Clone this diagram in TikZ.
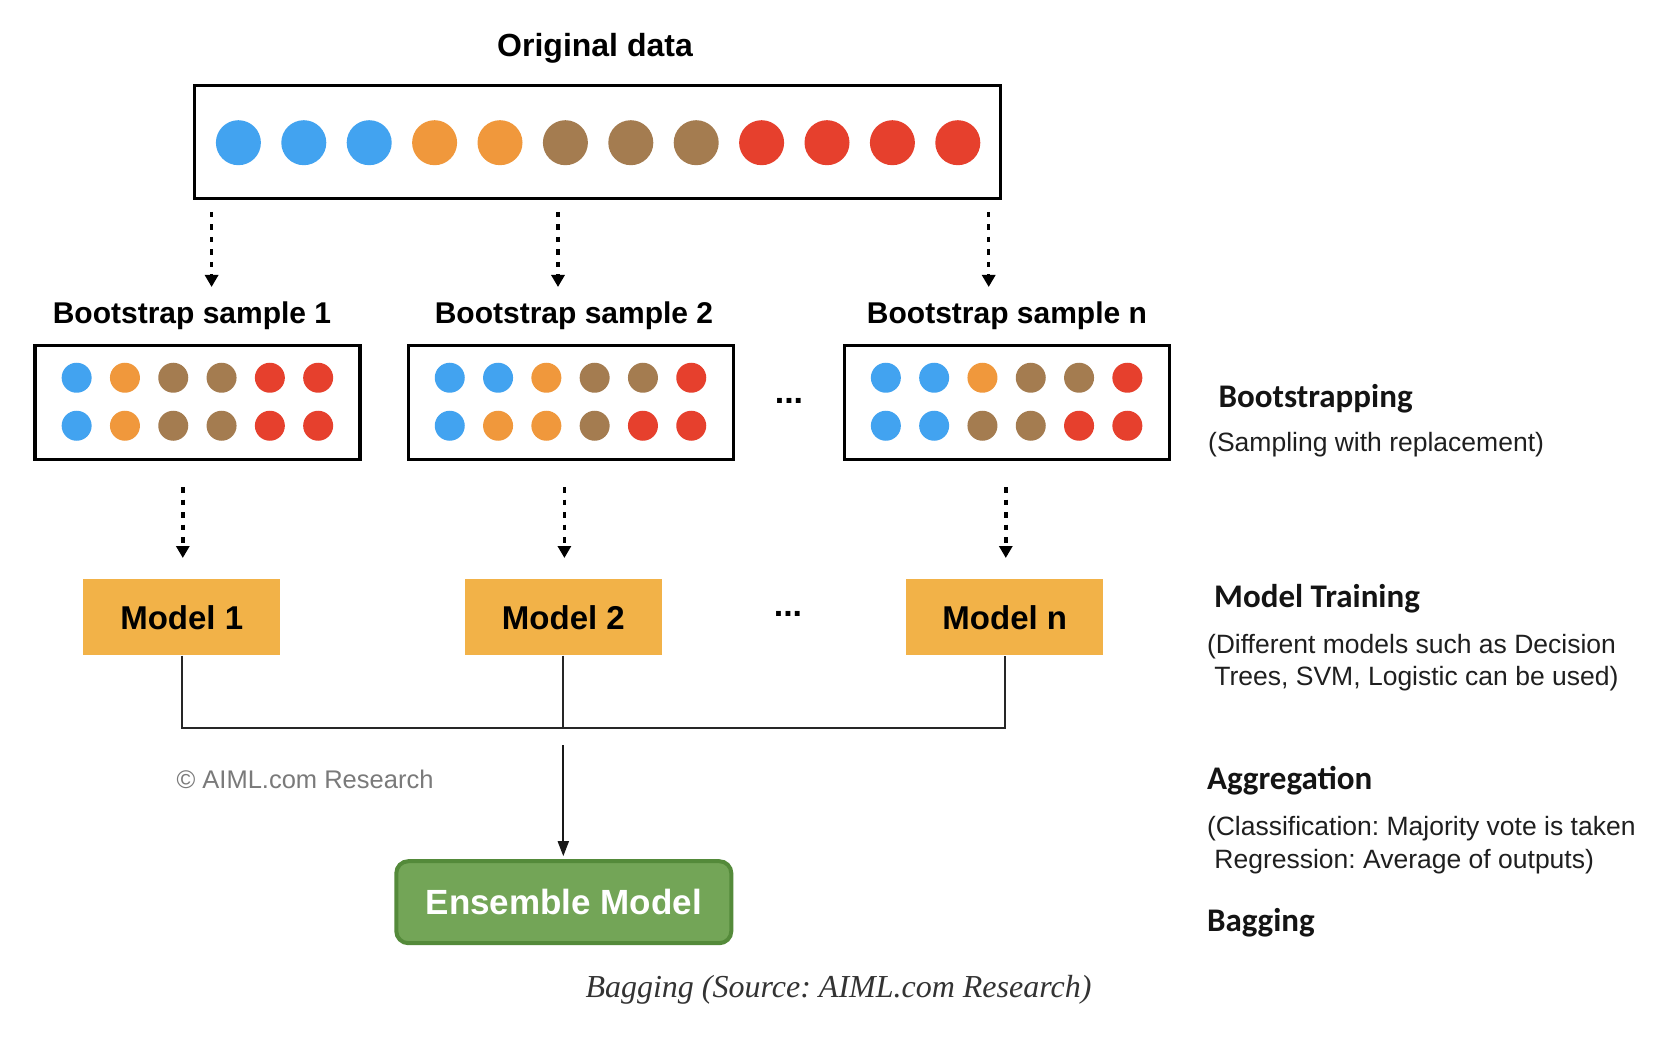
\documentclass[tikz,border=0pt]{standalone}
\usepackage{fontspec}
\setmainfont{Liberation Sans}
\newfontfamily\calib{Carlito}
\newfontfamily\capserif{Liberation Serif}
\usetikzlibrary{arrows.meta}
\definecolor{dblue}{HTML}{42A3F0}
\definecolor{dor}{HTML}{F0983C}
\definecolor{dbr}{HTML}{A47C50}
\definecolor{dred}{HTML}{E6402D}
\definecolor{mfill}{HTML}{F2B248}
\definecolor{egreen}{HTML}{73A557}
\definecolor{eborder}{HTML}{548A3A}
\definecolor{cgray}{HTML}{7A7A7A}
\definecolor{capc}{HTML}{333333}
\newcommand{\fs}[1]{\fontsize{#1}{#1}\selectfont}
\newcommand{\sampledots}[3]{%
  \begin{scope}[shift={(#1.north west)}]
    \foreach \c [count=\i from 0] in {#2} \fill[\c] (43.2+\i*48.3,34) circle (15);
    \foreach \c [count=\i from 0] in {#3} \fill[\c] (43.2+\i*48.3,82) circle (15);
  \end{scope}}
\frenchspacing
\begin{document}
\begin{tikzpicture}[x=1pt,y=-1pt,
  bigbox/.style={draw, line width=3.5pt, minimum width=806pt, minimum height=113pt, inner sep=0pt},
  sbox/.style={draw, line width=3.5pt, minimum width=325pt, minimum height=114pt, inner sep=0pt},
  title/.style={anchor=base, inner sep=0pt, font=\fs{31}\bfseries},
  mbox/.style={fill=mfill, minimum width=197pt, minimum height=76pt, inner sep=0pt, font=\fs{33}\bfseries},
  ens/.style={fill=egreen, draw=eborder, line width=4pt, rounded corners=12pt, minimum width=335pt, minimum height=82pt, text=white, font=\fs{35}\bfseries},
  darr/.style={line width=3.5pt, dash pattern=on 5.5pt off 7pt, -{Triangle[length=12pt,width=13pt]}},
  conn/.style={line width=1.6pt, draw=black!85},
  sarr/.style={line width=1.8pt, draw=black!90, -{Triangle[length=15pt,width=11pt]}},
  dots/.style={anchor=base, inner sep=0pt, font=\fs{34}\bfseries},
  rhead/.style={anchor=base west, inner sep=0pt, font=\fs{33}\calib\bfseries, text=black!92},
  rtext/.style={anchor=base west, inner sep=0pt, font=\fs{26.5}, text=black!88},
]
\useasboundingbox (0,0) rectangle (1676,1048);
\fill[white] (0,0) rectangle (1676,1048);

% Original data
\node[title, font=\fs{32}\bfseries] (otitle) at (595,57) {Original data};
\node[bigbox] (big) at (597.5,142.2) {};
\foreach \c [count=\i from 0] in {dblue,dblue,dblue,dor,dor,dbr,dbr,dbr,dred,dred,dred,dred}
  \fill[\c] (238.4+\i*65.4,142.7) circle (22.5);

% Bootstrap samples
\node[title, font=\fs{30}\bfseries] (l1) at (192,324) {Bootstrap sample 1};
\node[title, font=\fs{30}\bfseries] (l2) at (574,324) {Bootstrap sample 2};
\node[title, font=\fs{30}\bfseries] (ln) at (1007,324) {Bootstrap sample n};
\node[sbox] (s1) at (197.7,402.5) {};
\node[sbox] (s2) at (570.8,402.5) {};
\node[sbox] (sn) at (1006.9,402.5) {};
\sampledots{s1}{dblue,dor,dbr,dbr,dred,dred}{dblue,dor,dbr,dbr,dred,dred}
\sampledots{s2}{dblue,dblue,dor,dbr,dbr,dred}{dblue,dor,dor,dbr,dred,dred}
\sampledots{sn}{dblue,dblue,dor,dbr,dbr,dred}{dblue,dblue,dbr,dbr,dred,dred}
\node[dots] (d1) at (789,403) {...};

% dotted arrows original -> samples
\coordinate (a1s) at (211.6,212); \coordinate (a1e) at (211.6,287);
\coordinate (a2s) at (558,212);   \coordinate (a2e) at (558,287);
\coordinate (a3s) at (988.7,212); \coordinate (a3e) at (988.7,287);
\draw[darr] (a1s) -- (a1e);
\draw[darr] (a2s) -- (a2e);
\draw[darr] (a3s) -- (a3e);

% dotted arrows samples -> models
\coordinate (b1s) at (182.8,487); \coordinate (b1e) at (182.8,558);
\coordinate (b2s) at (564.4,487); \coordinate (b2e) at (564.4,558);
\coordinate (b3s) at (1005.8,487); \coordinate (b3e) at (1005.8,558);
\draw[darr] (b1s) -- (b1e);
\draw[darr] (b2s) -- (b2e);
\draw[darr] (b3s) -- (b3e);

% Models
\node[mbox] (m1) at (181.7,617.3) {Model 1};
\node[mbox] (m2) at (563.4,617.3) {Model 2};
\node[mbox] (mn) at (1004.8,617.3) {Model n};
\node[dots] (d2) at (788,616) {...};

% aggregation lines
\coordinate (j) at (562.8,728);
\draw[conn] (m1.south) -- (m1.south |- j) -- (mn.south |- j) -- (mn.south);
\draw[conn] (m2.south -| j) -- (j);

% Ensemble
\node[ens] (ens) at (563.8,902.2) {Ensemble Model};
\coordinate (es) at (563.3,745);
\draw[sarr, shorten >=3pt] (es) -- (es |- ens.north);

\node[anchor=base west, inner sep=0pt, font=\fs{25.5}, text=cgray] (copy) at (176.4,788) {© AIML.com Research};

% right side texts
\node[rhead] (t1) at (1218.5,407) {Bootstrapping};
\node[rtext] (t1b) at (1208,451) {(Sampling with replacement)};
\node[rhead] (t2) at (1214,607) {Model Training};
\node[rtext] (t2b) at (1206.8,653) {(Different models such as Decision};
\node[rtext] (t2c) at (1214.2,685) {Trees, SVM, Logistic can be used)};
\node[rhead] (t3) at (1206.8,789) {Aggregation};
\node[rtext] (t3b) at (1206.8,835) {(Classification: Majority vote is taken};
\node[rtext] (t3c) at (1214.2,868) {Regression: Average of outputs)};
\node[rhead] (t4) at (1206.8,931) {Bagging};

% caption
\node[anchor=base, inner sep=0pt, font=\fs{32}\capserif\itshape, text=capc] (cap) at (838.5,997) {Bagging (Source: AIML.com Research)};
\end{tikzpicture}
\end{document}
